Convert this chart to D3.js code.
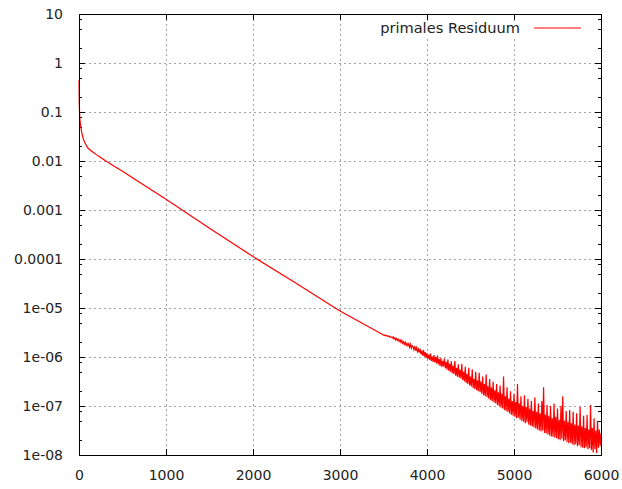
<!DOCTYPE html>
<html>
<head>
<meta charset="utf-8">
<script src="https://cdn.jsdelivr.net/npm/d3@7"></script>
<style>
  html, body { margin: 0; padding: 0; background: #fff; }
  svg { display: block; }
  .tick-label { font-family: "DejaVu Sans", sans-serif; font-size: 14px; fill: #222; }
  .key-label { font-family: "DejaVu Sans", sans-serif; font-size: 14.6px; fill: #222; }
  .grid line { stroke: #a0a0a0; stroke-width: 1; stroke-dasharray: 2,3; }
</style>
</head>
<body>
<svg id="chart" width="622" height="489"></svg>
<script>
// axis ticks
const xTicks = [0, 1000, 2000, 3000, 4000, 5000, 6000];
const yTicks = [10, 1, 0.1, 0.01, 0.001, 0.0001, 1e-5, 1e-6, 1e-7, 1e-8];
const yTickLabels = ['10', '1', '0.1', '0.01', '0.001', '0.0001', '1e-05', '1e-06', '1e-07', '1e-08'];
const minorMultipliers = [2, 5, 8];

const seriesName = 'primales Residuum';

// smooth part of the residual: iteration and log10(residual)
const smoothIter = [0, 3, 6, 10, 20, 35, 50, 70, 100, 130, 170, 200, 250, 300, 400, 500, 700, 1000, 1500, 2000, 2500, 3000, 3490];
const smoothLog = [-0.35, -0.8, -1.0, -1.15, -1.3, -1.45, -1.55, -1.64, -1.73, -1.78, -1.83, -1.87, -1.93, -1.99, -2.1, -2.21, -2.44, -2.78, -3.37, -3.95, -4.5, -5.06, -5.54];

// noisy tail, sampled every 10 iterations from 3500 on (one row = 100 iterations)
const noisyStart = 3500, noisyStep = 10;
const noisyLog = [
  -5.55, -5.56, -5.55, -5.57, -5.56, -5.58, -5.57, -5.59, -5.58, -5.60,
  -5.61, -5.59, -5.63, -5.61, -5.65, -5.62, -5.66, -5.64, -5.68, -5.65,
  -5.70, -5.66, -5.72, -5.69, -5.74, -5.70, -5.76, -5.72, -5.77, -5.73,
  -5.80, -5.74, -5.82, -5.77, -5.79, -5.85, -5.78, -5.87, -5.81, -5.89,
  -5.84, -5.91, -5.83, -5.94, -5.87, -5.97, -5.86, -5.99, -5.90, -6.02,
  -5.92, -6.04, -5.95, -6.06, -5.93, -6.08, -5.99, -6.10, -5.96, -6.11,
  -6.00, -6.13, -5.97, -6.15, -6.04, -6.18, -6.02, -6.20, -6.08, -6.19,
  -6.03, -6.23, -6.10, -6.26, -6.05, -6.28, -6.14, -6.30, -6.09, -6.33,
  -6.18, -6.35, -6.08, -6.38, -6.22, -6.40, -6.15, -6.42, -6.26, -6.44,
  -6.14, -6.47, -6.30, -6.50, -6.20, -6.53, -6.35, -6.55, -6.22, -6.58,
  -6.40, -6.60, -6.25, -6.63, -6.45, -6.65, -6.30, -6.68, -6.48, -6.70,
  -6.32, -6.72, -6.50, -6.75, -6.40, -6.78, -6.55, -6.80, -6.36, -6.82,
  -6.60, -6.85, -6.45, -6.88, -6.62, -6.90, -6.50, -6.93, -6.68, -6.95,
  -6.55, -6.98, -6.72, -7.00, -6.58, -7.03, -6.75, -7.05, -6.40, -7.08,
  -6.80, -7.10, -6.62, -7.12, -6.85, -7.15, -6.70, -7.18, -6.90, -7.20,
  -6.75, -7.22, -6.92, -7.25, -6.55, -7.24, -6.95, -7.28, -6.80, -7.30,
  -7.00, -7.32, -6.78, -7.35, -7.02, -7.33, -6.85, -7.38, -7.05, -7.40,
  -6.90, -7.42, -7.10, -7.44, -6.82, -7.46, -7.12, -7.48, -6.95, -7.50,
  -7.15, -7.52, -6.90, -7.50, -6.62, -7.55, -7.18, -7.56, -6.98, -7.58,
  -7.20, -7.60, -7.00, -7.62, -7.25, -7.63, -6.95, -7.65, -7.22, -7.66,
  -7.05, -7.68, -7.28, -7.70, -7.00, -7.67, -6.80, -7.72, -7.30, -7.70,
  -7.10, -7.74, -7.32, -7.76, -7.08, -7.75, -7.35, -7.78, -7.12, -7.80,
  -7.38, -7.78, -7.15, -7.82, -7.40, -7.80, -7.02, -7.84, -7.42, -7.85,
  -7.20, -7.86, -7.45, -7.84, -7.18, -7.88, -7.48, -7.86, -6.98, -7.90,
  -7.45, -7.95, -7.25, -7.88, -7.50, -7.96, -7.30, -7.85, -7.48, -7.82,
  -7.55
];

const W = 622, H = 489;
const plotL = 79, plotR = 601, plotT = 14, plotB = 455;
const majorLen = 6, minorLen = 3;

const svg = d3.select('#chart');
const x = d3.scaleLinear().domain([0, 6000]).range([plotL, plotR]);
const y = d3.scaleLog().domain([1e-8, 10]).range([plotB, plotT]);

const data = smoothIter.map((it, i) => ({ it, v: Math.pow(10, smoothLog[i]) }))
  .concat(noisyLog.map((l, i) => ({ it: noisyStart + i * noisyStep, v: Math.pow(10, l) })));

// grid
const grid = svg.append('g').attr('class', 'grid');
grid.selectAll('.gx').data(xTicks.slice(1, -1)).join('line')
  .attr('x1', d => Math.round(x(d)) + 0.5).attr('x2', d => Math.round(x(d)) + 0.5)
  .attr('y1', plotT).attr('y2', plotB);
grid.selectAll('.gy').data(yTicks.slice(1, -1)).join('line')
  .attr('x1', plotL).attr('x2', plotR)
  .attr('y1', d => Math.round(y(d)) + 0.5).attr('y2', d => Math.round(y(d)) + 0.5);

// key area stays clear of grid
svg.append('rect').attr('x', 372).attr('y', plotT + majorLen + 1)
  .attr('width', 222).attr('height', 18).attr('fill', '#fff');

// ticks, inward on all four sides
const minorTicks = [];
for (let e = -8; e < 1; e++) minorMultipliers.forEach(m => minorTicks.push(m * Math.pow(10, e)));

const tk = svg.append('g').attr('stroke', '#000').attr('stroke-width', 1);
xTicks.forEach(t => {
  const px = Math.round(x(t)) + 0.5;
  tk.append('line').attr('x1', px).attr('x2', px).attr('y1', plotB).attr('y2', plotB - majorLen);
  tk.append('line').attr('x1', px).attr('x2', px).attr('y1', plotT).attr('y2', plotT + majorLen);
});
yTicks.forEach(t => {
  const py = Math.round(y(t)) + 0.5;
  tk.append('line').attr('x1', plotL).attr('x2', plotL + majorLen).attr('y1', py).attr('y2', py);
  tk.append('line').attr('x1', plotR).attr('x2', plotR - majorLen).attr('y1', py).attr('y2', py);
});
minorTicks.forEach(t => {
  const py = Math.round(y(t)) + 0.5;
  tk.append('line').attr('x1', plotL).attr('x2', plotL + minorLen).attr('y1', py).attr('y2', py);
  tk.append('line').attr('x1', plotR).attr('x2', plotR - minorLen).attr('y1', py).attr('y2', py);
});

// tick labels via d3 axes (tick lines hidden)
const xAxis = svg.append('g').attr('transform', `translate(0,${plotB})`)
  .call(d3.axisBottom(x).tickValues(xTicks).tickFormat(d3.format('d')).tickSize(0).tickPadding(15));
const yAxis = svg.append('g').attr('transform', `translate(${plotL},0)`)
  .call(d3.axisLeft(y).tickValues(yTicks).tickFormat((d, i) => yTickLabels[i]).tickSize(0).tickPadding(16));
[xAxis, yAxis].forEach(a => {
  a.select('.domain').remove();
  a.selectAll('text').attr('class', 'tick-label').attr('fill', null);
  a.attr('font-family', null).attr('font-size', null);
});

// curve
const line = d3.line().x(d => x(d.it)).y(d => y(d.v));
svg.append('path').datum(data)
  .attr('d', line)
  .attr('fill', 'none')
  .attr('stroke', '#ff0000')
  .attr('stroke-width', 1.2)
  .attr('stroke-linejoin', 'miter');

// frame
svg.append('rect')
  .attr('x', plotL + 0.5).attr('y', plotT + 0.5)
  .attr('width', plotR - plotL).attr('height', plotB - plotT)
  .attr('fill', 'none').attr('stroke', '#000').attr('stroke-width', 1);

// key
svg.append('text').attr('class', 'key-label')
  .attr('x', 520).attr('y', 28).attr('dy', '0.35em')
  .attr('text-anchor', 'end').text(seriesName);
svg.append('line').attr('x1', 534).attr('x2', 581).attr('y1', 28).attr('y2', 28)
  .attr('stroke', '#ff0000').attr('stroke-width', 1);
</script>
</body>
</html>
